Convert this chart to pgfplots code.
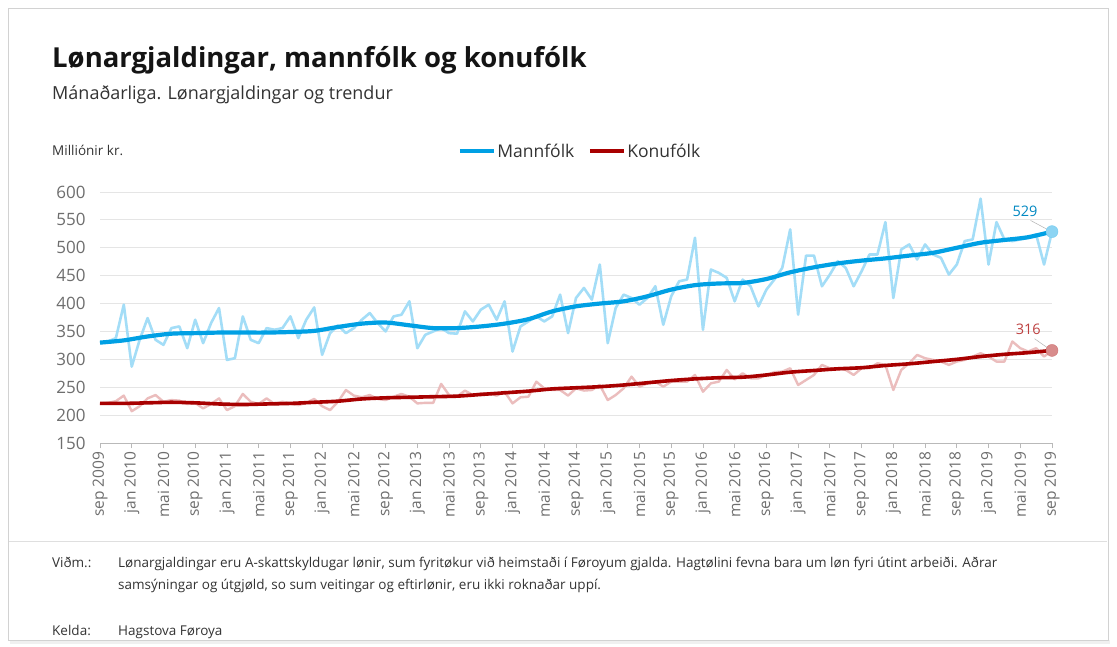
\documentclass[border=0pt]{standalone}
\usepackage{fontspec}
\setmainfont{Open Sans}
\usepackage{pgfplots}
\usepackage{pgfplotstable}
\pgfplotsset{compat=1.18}

\definecolor{blueTrend}{HTML}{00A0E4}
\definecolor{blueRaw}{HTML}{A3DDF7}
\definecolor{redTrend}{HTML}{A80000}
\definecolor{redRaw}{HTML}{EBBDBD}
\definecolor{tickgray}{HTML}{6E6E6E}
\definecolor{textdark}{HTML}{333333}

% Monthly wage payments (million kr.), t = months since sep 2009
\pgfplotstableread{
t menn konur
0 330 221
1 332 222
2 338 225
3 398 235
4 287 207
5 335 216
6 374 230
7 335 236
8 326 224
9 356 227
10 359 226
11 320 220
12 371 222
13 329 212
14 365 220
15 392 230
16 299 209
17 302 216
18 377 238
19 335 224
20 329 220
21 356 230
22 353 220
23 356 224
24 377 220
25 338 218
26 371 222
27 393 229
28 308 216
29 347 209
30 361 224
31 347 245
32 356 235
33 371 232
34 383 236
35 365 229
36 350 227
37 377 233
38 380 238
39 404 233
40 320 221
41 344 222
42 350 222
43 356 256
44 347 236
45 346 233
46 386 244
47 368 236
48 389 239
49 398 239
50 371 235
51 404 242
52 314 221
53 359 232
54 368 233
55 377 260
56 368 248
57 377 245
58 416 245
59 347 235
60 410 248
61 428 244
62 407 245
63 470 254
64 329 227
65 392 236
66 416 248
67 410 269
68 398 251
69 410 257
70 431 260
71 362 251
72 413 260
73 440 260
74 443 260
75 518 272
76 353 242
77 461 257
78 455 260
79 446 281
80 404 264
81 443 275
82 431 266
83 395 266
84 425 272
85 443 277
86 464 278
87 533 284
88 380 254
89 486 263
90 486 272
91 431 290
92 452 284
93 476 284
94 464 281
95 431 272
96 458 284
97 488 284
98 488 293
99 546 290
100 410 245
101 497 281
102 506 293
103 479 308
104 506 302
105 488 299
106 482 296
107 452 290
108 470 296
109 512 299
110 515 305
111 588 311
112 470 305
113 546 296
114 515 296
115 512 332
116 515 320
117 518 314
118 524 320
119 470 305
120 529 316
}\rawdata

% Trend values
\pgfplotstableread{
t menn konur
0 330 221
3 334 221
6 341 222
9 346 223
12 347 222
15 348 220
18 348 219
21 348 220
24 349 221
27 351 223
30 358 225
33 364 229
36 366 231
39 361 232
42 356 233
45 356 234
48 359 237
51 364 240
54 372 243
57 386 247
60 395 249
63 400 251
66 404 254
69 413 258
72 425 262
75 433 265
78 436 267
81 437 268
84 444 272
87 456 277
90 465 280
93 472 283
96 477 285
99 481 289
102 486 292
105 491 296
108 500 300
111 509 305
114 514 309
117 519 312
120 529 316
}\trenddata

\begin{document}
\begin{tikzpicture}
% page area and frame
\fill[white] (0pt,0pt) rectangle (1117pt,-646pt);
\fill[gray!12] (10pt,-640pt) rectangle (1110pt,-644pt);
\draw[gray!35, line width=0.8pt] (8pt,-8pt) rectangle (1108pt,-640pt);
\draw[gray!25, line width=0.8pt] (9pt,-541pt) -- (1107pt,-541pt);

% titles
\node[anchor=base west, inner sep=0pt, font=\fontsize{27.5}{32}\selectfont\bfseries, text=black!92] at (52pt,-67pt) {Lønargjaldingar, mannfólk og konufólk};
\node[anchor=base west, inner sep=0pt, font=\fontsize{18}{22}\selectfont, text=textdark] at (52pt,-99pt) {Mánaðarliga. Lønargjaldingar og trendur};
\node[anchor=base west, inner sep=0pt, font=\fontsize{13.5}{16}\selectfont, text=textdark] at (52pt,-155pt) {Milliónir kr.};

\begin{axis}[
  at={(100pt,-443pt)}, anchor=south west,
  scale only axis, width=952pt, height=251pt,
  xmin=0, xmax=120, ymin=150, ymax=600,
  enlargelimits=false, clip=false,
  axis x line*=bottom, axis y line*=left,
  axis line style={-},
  y axis line style={draw=none},
  x axis line style={draw=gray!55, line width=0.8pt},
  ytick={150,200,...,600},
  xtick={0,4,...,120},
  xticklabels={sep 2009,jan 2010,mai 2010,sep 2010,jan 2011,mai 2011,sep 2011,jan 2012,mai 2012,sep 2012,jan 2013,mai 2013,sep 2013,jan 2014,mai 2014,sep 2014,jan 2015,mai 2015,sep 2015,jan 2016,mai 2016,sep 2016,jan 2017,mai 2017,sep 2017,jan 2018,mai 2018,sep 2018,jan 2019,mai 2019,sep 2019},
  tick align=outside,
  ytick style={draw=none},
  xtick style={draw=gray!55, line width=0.8pt},
  major tick length=5pt,
  ymajorgrids,
  grid style={gray!20, line width=0.9pt},
  /pgf/number format/assume math mode=true,
  yticklabel style={font=\fontsize{17}{20}\selectfont, text=tickgray, xshift=-6pt},
  xticklabel style={font=\fontsize{15.5}{18}\selectfont, text=tickgray, rotate=90, anchor=east},
  legend style={at={(0.504,1.163)}, anchor=center, draw=none, fill=none,
    legend columns=2, font=\fontsize{17.5}{20}\selectfont, text=textdark,
    /tikz/every even column/.append style={column sep=12pt},
    nodes={inner sep=1.5pt}},
  legend image code/.code={\draw[#1, line width=4pt] (0pt,0pt) -- (34pt,0pt);},
]
\addplot[blueRaw, line width=2.6pt, line join=round, forget plot] table[x=t, y=menn] {\rawdata};
\addplot[redRaw, line width=2.4pt, line join=round, forget plot] table[x=t, y=konur] {\rawdata};
\addplot[blueTrend, line width=4.2pt, smooth] table[x=t, y=menn] {\trenddata};
\addlegendentry{Mannfólk}
\addplot[redTrend, line width=3.6pt, smooth] table[x=t, y=konur] {\trenddata};
\addlegendentry{Konufólk}

% end markers with value labels
\addplot[only marks, mark=*, mark size=6pt, mark options={draw=blueTrend!55, fill=blueTrend!45}, forget plot] coordinates {(120,529)};
\addplot[only marks, mark=*, mark size=6pt, mark options={draw=redTrend!55, fill=redTrend!45}, forget plot] coordinates {(120,316)};
\draw[gray!60, line width=0.5pt] (axis cs:117.3,549) -- (axis cs:119.4,533);
\draw[gray!60, line width=0.5pt] (axis cs:117.8,337) -- (axis cs:119.4,321);
\node[font=\fontsize{14.5}{16}\selectfont, text=blueTrend!85!black] at (axis cs:116.6,565) {529};
\node[font=\fontsize{14.5}{16}\selectfont, text=redTrend!75!white] at (axis cs:117.0,353) {316};
\end{axis}

% notes
\node[anchor=base west, inner sep=0pt, font=\fontsize{13.5}{16}\selectfont, text=textdark] at (52pt,-567pt) {Viðm.:};
\node[anchor=base west, inner sep=0pt, font=\fontsize{13.5}{16}\selectfont, text=textdark] at (118pt,-567pt) {Lønargjaldingar eru A-skattskyldugar lønir, sum fyritøkur við heimstaði í Føroyum gjalda. Hagtølini fevna bara um løn fyri útint arbeiði. Aðrar};
\node[anchor=base west, inner sep=0pt, font=\fontsize{13.5}{16}\selectfont, text=textdark] at (118pt,-589pt) {samsýningar og útgjøld, so sum veitingar og eftirlønir, eru ikki roknaðar uppí.};
\node[anchor=base west, inner sep=0pt, font=\fontsize{13.5}{16}\selectfont, text=textdark] at (52pt,-635pt) {Kelda:};
\node[anchor=base west, inner sep=0pt, font=\fontsize{13.5}{16}\selectfont, text=textdark] at (118pt,-635pt) {Hagstova Føroya};
\end{tikzpicture}
\end{document}
